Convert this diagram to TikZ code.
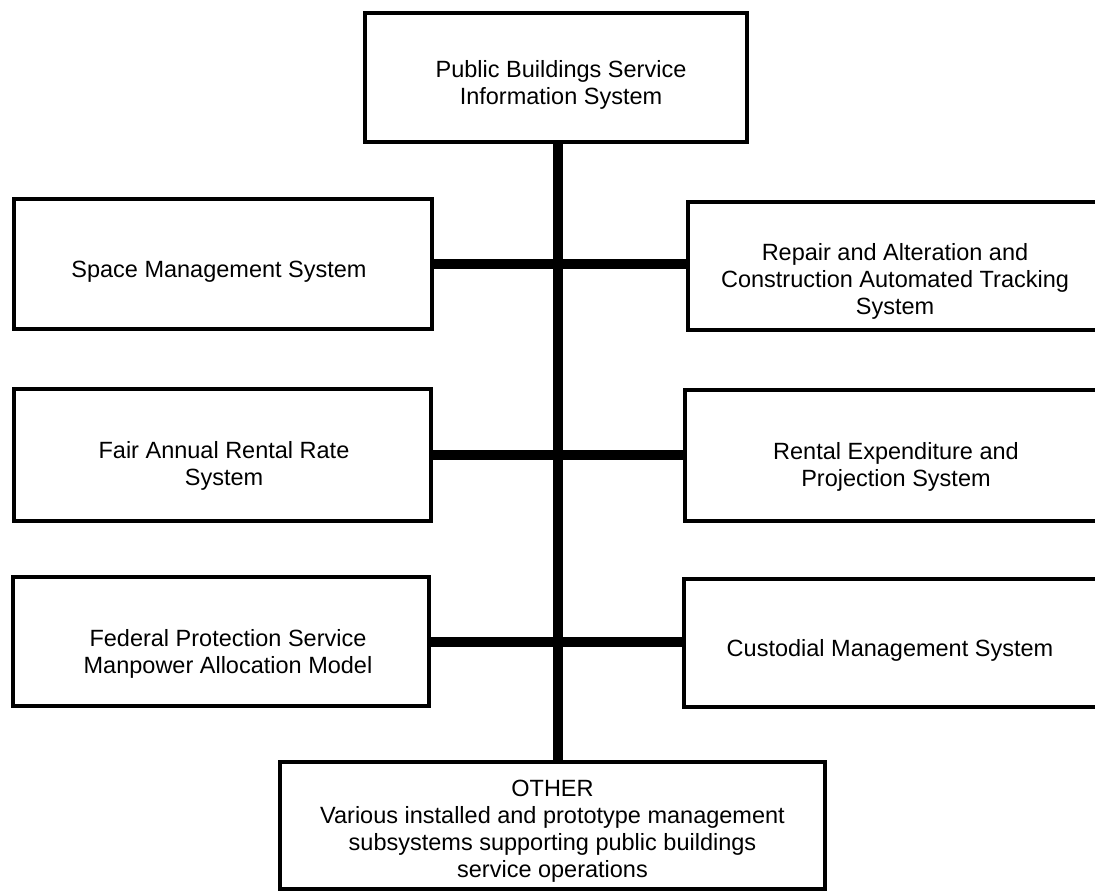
\documentclass[tikz,border=0pt]{standalone}
\usepackage{fontspec}
\setmainfont{Liberation Sans}
\begin{document}
\begin{tikzpicture}[x=1pt,y=-1pt,
  box/.style={draw, line width=4.5pt, inner sep=0pt},
  lbl/.style={align=center, font=\fontsize{23.5}{27}\selectfont, inner sep=0pt},
  trunk/.style={line width=10pt}]
\useasboundingbox (0,0) rectangle (1095,894);
\clip (0,0) rectangle (1095,894);

% frames
\node[box, minimum width=382pt, minimum height=129pt] (top) at (556,77.5) {};
\node[box, minimum width=418pt, minimum height=130pt] (space) at (223,264) {};
\node[box, minimum width=417pt, minimum height=132pt] (fair) at (222.5,455) {};
\node[box, minimum width=416pt, minimum height=129pt] (federal) at (221,641.5) {};
\node[box, minimum width=422pt, minimum height=128pt] (repair) at (899,266) {};
\node[box, minimum width=425pt, minimum height=131pt] (rental) at (897.5,455.5) {};
\node[box, minimum width=426pt, minimum height=128pt] (custodial) at (897,643) {};
\node[box, minimum width=545pt, minimum height=127pt] (other) at (552.5,825.5) {};

% texts
\node[lbl] (toptxt) at ([shift={(5pt,-7pt)}]top.center)
  {Public Buildings Service\\Information System};
\node[lbl] (spacetxt) at ([shift={(-4pt,-8pt)}]space.center)
  {Space Management System};
\node[lbl] (fairtxt) at ([shift={(1.5pt,-11pt)}]fair.center)
  {Fair Annual Rental Rate\\System};
\node[lbl] (federaltxt) at ([shift={(7pt,-12pt)}]federal.center)
  {Federal Protection Service\\Manpower Allocation Model};
\node[lbl] (repairtxt) at ([shift={(-4pt,-15pt)}]repair.center)
  {Repair and Alteration and\\Construction Automated Tracking\\System};
\node[lbl] (rentaltxt) at ([shift={(-1.5pt,-11.5pt)}]rental.center)
  {Rental Expenditure and\\Projection System};
\node[lbl] (custodialtxt) at ([shift={(-7pt,-7pt)}]custodial.center)
  {Custodial Management System};
\node[lbl] (othertxt) at ([shift={(0pt,-6pt)}]other.center)
  {OTHER\\Various installed and prototype management\\subsystems supporting public buildings\\service operations};

% trunk and branches
\coordinate (tk) at (558,0);
\draw[trunk] (top.south -| tk) -- (other.north -| tk);
\draw[trunk] (space.east) -- (space.east -| repair.west);
\draw[trunk] (fair.east) -- (fair.east -| rental.west);
\draw[trunk] (federal.east) -- (federal.east -| custodial.west);
\end{tikzpicture}
\end{document}
